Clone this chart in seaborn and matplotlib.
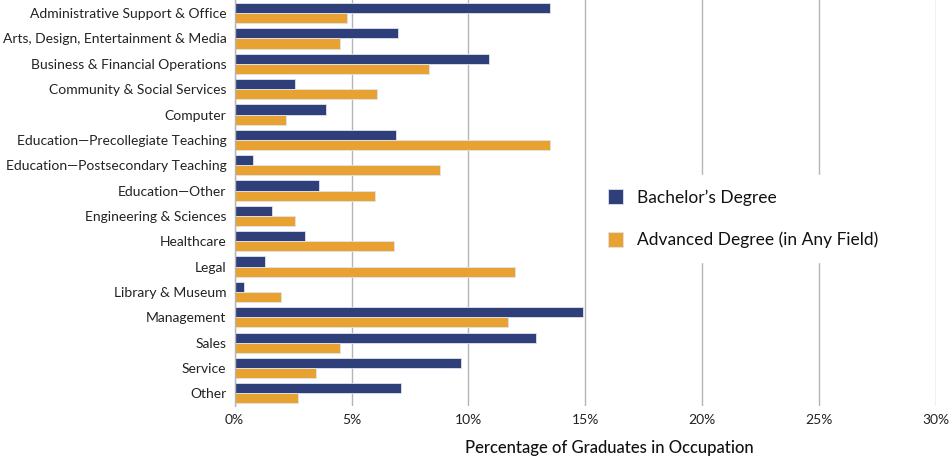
import pandas as pd
import numpy as np
import matplotlib
matplotlib.use("Agg")
import matplotlib.pyplot as plt
import seaborn as sns

occupations = [
    "Administrative Support & Office",
    "Arts, Design, Entertainment & Media",
    "Business & Financial Operations",
    "Community & Social Services",
    "Computer",
    "Education\u2014Precollegiate Teaching",
    "Education\u2014Postsecondary Teaching",
    "Education\u2014Other",
    "Engineering & Sciences",
    "Healthcare",
    "Legal",
    "Library & Museum",
    "Management",
    "Sales",
    "Service",
    "Other",
]
bachelor = [13.5, 7.0, 10.9, 2.6, 3.9, 6.9, 0.8, 3.6, 1.6, 3.0, 1.3, 0.4, 14.9, 12.9, 9.7, 7.1]
advanced = [4.8, 4.5, 8.3, 6.1, 2.2, 13.5, 8.8, 6.0, 2.6, 6.8, 12.0, 2.0, 11.7, 4.5, 3.5, 2.7]
series_names = ["Bachelor\u2019s Degree", "Advanced Degree (in Any Field)"]
x_ticks = [0, 5, 10, 15, 20, 25, 30]

df = pd.DataFrame({
    "Occupation": occupations * 2,
    "Percent": bachelor + advanced,
    "Degree": [series_names[0]] * len(occupations) + [series_names[1]] * len(occupations),
})

sns.set_style("white")
plt.rcParams["font.family"] = ["Lato", "DejaVu Sans"]

fig = plt.figure(figsize=(9.5, 4.58), dpi=100)
ax = fig.add_axes([0.247, 0.1135, 0.738, 0.8855])

sns.barplot(data=df, x="Percent", y="Occupation", hue="Degree",
            palette=["#2E3F7A", "#E8A231"], orient="h", width=0.8,
            edgecolor="#dfe3ee", linewidth=0.6, saturation=1, ax=ax)

ax.set_xlim(0, 30)
ax.set_ylim(15.5, -0.5)
ax.set_xticks(x_ticks)
ax.set_xticklabels([f"{t}%" for t in x_ticks], fontsize=10, color="#222222")
ax.tick_params(axis="y", labelsize=10, labelcolor="#222222", length=0, pad=6)
ax.tick_params(axis="x", length=0, pad=6)
ax.set_ylabel("")
ax.set_xlabel("Percentage of Graduates in Occupation", fontsize=12,
              fontweight="medium", color="#111111", labelpad=9)
ax.xaxis.set_label_coords(0.535, -0.085)
ax.xaxis.grid(True, color="#b5b5b5", linewidth=1)
ax.set_axisbelow(True)
for side in ["top", "right", "bottom"]:
    ax.spines[side].set_visible(False)
ax.spines["left"].set_color("#b5b5b5")
ax.spines["left"].set_linewidth(1)

leg = ax.legend(title=None, loc="upper left", bbox_to_anchor=(0.50, 0.59),
                frameon=True, fontsize=12.5, handlelength=0.9, handleheight=0.9,
                labelspacing=1.5, handletextpad=0.8, borderpad=0.8)
leg.get_frame().set_facecolor("white")
leg.get_frame().set_edgecolor("white")
leg.get_frame().set_alpha(1)
for t in leg.get_texts():
    t.set_color("#111111")

fig.savefig("out.png", dpi=100)
